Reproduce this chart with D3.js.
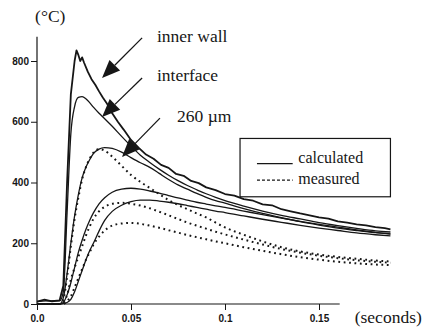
<!DOCTYPE html>
<html>
<head>
<meta charset="utf-8">
<script src="https://cdn.jsdelivr.net/npm/d3@7"></script>
<style>
  body { margin: 0; background: #fff; }
  svg { display: block; }
</style>
</head>
<body>
<svg id="chart" width="424" height="330"></svg>
<script>
// time grid (seconds) shared by the smooth curves
const times = [0, 0.005, 0.01, 0.012, 0.014, 0.016, 0.018, 0.02, 0.022, 0.024, 0.026, 0.028, 0.03, 0.033, 0.036, 0.04, 0.045, 0.05, 0.055, 0.06, 0.065, 0.07, 0.075, 0.08, 0.085, 0.09, 0.095, 0.1, 0.11, 0.12, 0.13, 0.14, 0.15, 0.16, 0.17, 0.18, 0.188]

// inner wall trace is noisy, read on its own finer grid
const wallTimes = [0, 0.004, 0.008, 0.012, 0.014, 0.016, 0.018, 0.02, 0.021, 0.022, 0.023, 0.024, 0.025, 0.027, 0.029, 0.031, 0.033, 0.035, 0.037, 0.04, 0.043, 0.046, 0.05, 0.054, 0.058, 0.062, 0.066, 0.07, 0.074, 0.078, 0.082, 0.086, 0.09, 0.095, 0.1, 0.105, 0.11, 0.115, 0.12, 0.125, 0.13, 0.135, 0.14, 0.145, 0.15, 0.155, 0.16, 0.165, 0.17, 0.175, 0.18, 0.185, 0.188]
const innerWall = [8, 14, 9, 12, 60, 400, 690, 800, 835, 820, 800, 812, 795, 765, 740, 722, 700, 680, 662, 628, 600, 575, 540, 515, 492, 478, 458, 448, 428, 422, 405, 398, 384, 375, 362, 357, 345, 340, 328, 325, 312, 305, 298, 292, 285, 281, 272, 268, 262, 259, 253, 250, 246]

const interfaceT = [8, 10, 10, 10, 40, 300, 560, 650, 680, 683, 676, 663, 648, 628, 610, 585, 552, 520, 490, 466, 444, 424, 406, 390, 376, 363, 351, 340, 322, 306, 292, 280, 268, 258, 249, 241, 237]

// calculated (solid)
const calc260 = [0, 0, 0, 0, 20, 100, 200, 290, 360, 415, 450, 475, 495, 510, 515, 512, 500, 482, 465, 450, 430, 410, 392, 378, 364, 351, 340, 332, 314, 298, 284, 271, 260, 250, 242, 235, 231]
const calcMid = [0, 0, 0, 0, 5, 30, 70, 120, 170, 210, 245, 275, 300, 330, 350, 368, 378, 381, 378, 372, 365, 357, 349, 342, 335, 329, 323, 318, 306, 294, 283, 272, 262, 253, 244, 236, 230]
const calcLow = [0, 0, 0, 0, 2, 5, 15, 40, 75, 110, 145, 175, 200, 240, 275, 305, 325, 337, 342, 342, 339, 335, 330, 324, 318, 312, 306, 301, 290, 279, 269, 259, 250, 242, 234, 228, 224]

// measured (dotted)
const meas260 = [0, 0, 0, 0, 15, 90, 190, 280, 350, 410, 450, 478, 498, 510, 505, 485, 455, 425, 402, 382, 362, 342, 326, 312, 298, 285, 268, 252, 228, 206, 187, 173, 163, 155, 149, 143, 140]
const measMid = [0, 0, 0, 0, 5, 30, 80, 120, 155, 190, 225, 255, 280, 305, 320, 330, 333, 330, 324, 315, 304, 292, 280, 268, 258, 248, 238, 229, 212, 196, 181, 169, 159, 151, 144, 139, 136]
const measLow = [0, 0, 0, 0, 0, 10, 25, 55, 85, 115, 145, 170, 195, 222, 242, 258, 265, 267, 264, 258, 251, 243, 235, 227, 220, 213, 206, 200, 187, 175, 164, 154, 146, 139, 134, 130, 128]

const yTicks = [0, 200, 400, 600, 800]
const xTicks = [0, 0.05, 0.1, 0.15]
const xTickLabels = ['0.0', '0.05', '0.1', '0.15']

// annotation arrows [t0, v0, t1, v1] (tail -> tip), in data units
const arrows = [
  { label: 'inner wall', at: [0.0559, 876, 0.0346, 744], text: [0.0638, 862] },
  { label: 'interface', at: [0.0559, 744, 0.0346, 616], text: [0.0638, 733] },
  { label: '260 \u00b5m', at: [0.0654, 612, 0.0452, 484], text: [0.0745, 600] }
]

const ink = '#161616'
const svg = d3.select('#chart')

const x = d3.scaleLinear().domain([0, 0.15]).range([37, 319])
const y = d3.scaleLinear().domain([0, 800]).range([304, 61])

// axes
const yAxis = svg.append('g')
  .attr('transform', `translate(${x(0)},0)`)
  .call(d3.axisLeft(y).tickValues(yTicks).tickSize(6).tickPadding(2).tickFormat(d3.format('d')))
yAxis.select('.domain').remove()

const xAxis = svg.append('g')
  .attr('transform', `translate(0,${y(0)})`)
  .call(d3.axisBottom(x).tickValues(xTicks).tickSize(6).tickPadding(5).tickFormat((d, i) => xTickLabels[i]))
xAxis.select('.domain').remove()

svg.selectAll('.tick line').attr('stroke', ink).attr('stroke-width', 1)
svg.selectAll('.tick text')
  .attr('fill', ink)
  .style('font-family', '"Liberation Sans", Arial, sans-serif')
  .style('font-size', '10px')
  .style('font-weight', 'bold')

svg.append('line')
  .attr('x1', x(0)).attr('x2', x(0))
  .attr('y1', y(880)).attr('y2', y(0))
  .attr('stroke', ink).attr('stroke-width', 1.2)

svg.append('line')
  .attr('x1', x(0)).attr('x2', x(0.161))
  .attr('y1', y(0)).attr('y2', y(0))
  .attr('stroke', ink).attr('stroke-width', 1.2)

// curves
const smooth = d3.line()
  .x(d => x(d[0]))
  .y(d => y(d[1]))
  .curve(d3.curveMonotoneX)
const rough = d3.line()
  .x(d => x(d[0]))
  .y(d => y(d[1]))

const pairs = vals => times.map((t, i) => [t, vals[i]])

svg.append('path')
  .datum(wallTimes.map((t, i) => [t, innerWall[i]]))
  .attr('d', rough)
  .attr('fill', 'none')
  .attr('stroke', ink)
  .attr('stroke-width', 1.8)
  .attr('stroke-linejoin', 'round')

const solids = [interfaceT, calc260, calcMid, calcLow]
svg.selectAll('.solid')
  .data(solids)
  .enter()
  .append('path')
  .attr('class', 'solid')
  .attr('d', v => smooth(pairs(v)))
  .attr('fill', 'none')
  .attr('stroke', ink)
  .attr('stroke-width', 1.3)

const dotted = [meas260, measMid, measLow]
svg.selectAll('.dotted')
  .data(dotted)
  .enter()
  .append('path')
  .attr('class', 'dotted')
  .attr('d', v => smooth(pairs(v)))
  .attr('fill', 'none')
  .attr('stroke', ink)
  .attr('stroke-width', 2)
  .attr('stroke-dasharray', '1.8,3.6')

const serif = (sel, size = 17.5) => sel
  .attr('fill', ink)
  .style('font-family', '"Liberation Serif", "Times New Roman", serif')
  .style('font-size', size + 'px')

// arrows with filled heads
const HEAD_LEN = 18
const HEAD_HALF = 7.5
arrows.forEach(a => {
  const [x0, y0, x1, y1] = [x(a.at[0]), y(a.at[1]), x(a.at[2]), y(a.at[3])]
  const ang = Math.atan2(y1 - y0, x1 - x0)
  const bx = x1 - HEAD_LEN * Math.cos(ang)
  const by = y1 - HEAD_LEN * Math.sin(ang)
  svg.append('line')
    .attr('x1', x0).attr('y1', y0)
    .attr('x2', bx).attr('y2', by)
    .attr('stroke', ink).attr('stroke-width', 1.3)
  const px = -Math.sin(ang) * HEAD_HALF
  const py = Math.cos(ang) * HEAD_HALF
  svg.append('path')
    .attr('d', `M${x1},${y1}L${bx + px},${by + py}L${bx - px},${by - py}Z`)
    .attr('fill', ink)
  svg.append('text')
    .attr('x', x(a.text[0]))
    .attr('y', y(a.text[1]))
    .call(serif)
    .text(a.label)
})

svg.append('text').attr('x', x(-0.001)).attr('y', y(930)).call(serif).text('(\u00b0C)')
svg.append('text').attr('x', x(0.169)).attr('y', y(-62)).call(serif).text('(seconds)')

// legend box
const legend = svg.append('g')
legend.append('rect')
  .attr('x', x(0.108)).attr('y', y(545))
  .attr('width', x(0.188) - x(0.108)).attr('height', y(353) - y(545))
  .attr('fill', '#fff')
  .attr('stroke', ink).attr('stroke-width', 1.2)
legend.append('line')
  .attr('x1', x(0.117)).attr('x2', x(0.136))
  .attr('y1', y(462)).attr('y2', y(462))
  .attr('stroke', ink).attr('stroke-width', 1.2)
legend.append('line')
  .attr('x1', x(0.117)).attr('x2', x(0.136))
  .attr('y1', y(408)).attr('y2', y(408))
  .attr('stroke', ink).attr('stroke-width', 1.2)
  .attr('stroke-dasharray', '3,2')
legend.append('text').attr('x', x(0.139)).attr('y', y(464)).call(serif, 16).text('calculated')
legend.append('text').attr('x', x(0.139)).attr('y', y(396)).call(serif, 16).text('measured')
</script>
</body>
</html>
